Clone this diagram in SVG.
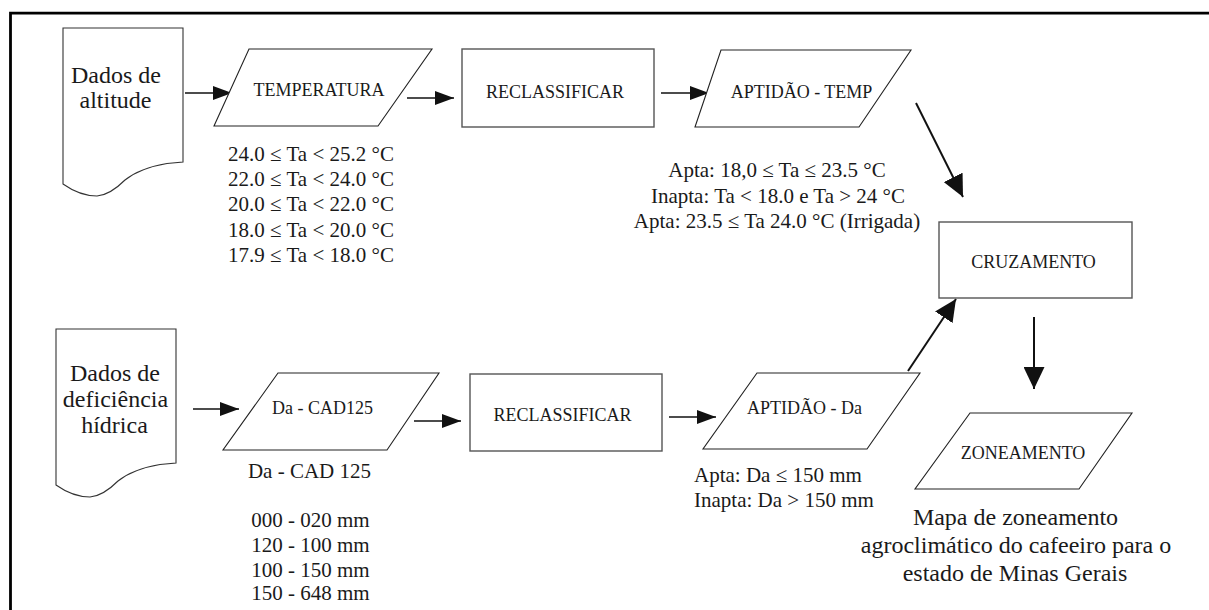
<svg xmlns="http://www.w3.org/2000/svg" width="1209" height="610" viewBox="0 0 1209 610">
<style>
  text { font-family: "Liberation Serif", "Times New Roman", serif; fill: #1a1a1a; }
  .box { font-size: 18px; text-anchor: middle; }
  .doc { font-size: 24px; text-anchor: middle; }
  .note { font-size: 21px; }
  .mid { text-anchor: middle; }
  .cap { font-size: 24px; text-anchor: middle; }
  .rect { fill: #fff; stroke: #555; stroke-width: 1.4; }
  .para { fill: #fff; stroke: #222; stroke-width: 1.1; }
  .docshape { fill: #fff; stroke: #333; stroke-width: 1.1; }
  .conn { stroke: #111; fill: none; }
  .thin { stroke-width: 1.7; marker-end: url(#ah); }
  .thick { stroke-width: 2; marker-end: url(#ahL); }
</style>
<defs>
  <marker id="ah" markerUnits="userSpaceOnUse" markerWidth="19" markerHeight="14" refX="19" refY="7" orient="auto">
    <path d="M0,0 L19,7 L0,14 Z" fill="#111"/>
  </marker>
  <marker id="ahL" markerUnits="userSpaceOnUse" markerWidth="22" markerHeight="21" refX="22" refY="10.5" orient="auto">
    <path d="M0,0 L22,10.5 L0,21 Z" fill="#111"/>
  </marker>
  <path id="docpath" d="M0,0 H120 V134 L104,135.5 Q77,140 62,152 Q47,167 34,168 Q17,168 0,156 Z"/>
</defs>

<rect x="0" y="0" width="1209" height="610" fill="#fff"/>
<path d="M10.5,610 V13.2 H1209" fill="none" stroke="#000" stroke-width="2.8"/>

<g id="connectors">
  <line class="conn thin" x1="185" y1="93" x2="232" y2="93"/>
  <line class="conn thin" x1="407" y1="98" x2="454" y2="98"/>
  <line class="conn thin" x1="661" y1="93" x2="709" y2="93"/>
  <line class="conn thin" x1="193" y1="409" x2="239" y2="409"/>
  <line class="conn thin" x1="414" y1="421" x2="461" y2="421"/>
  <line class="conn thin" x1="669" y1="417" x2="716" y2="417"/>
  <line class="conn thick" x1="916" y1="103" x2="963" y2="197"/>
  <line class="conn thick" x1="908" y1="371" x2="956" y2="299"/>
  <line class="conn thick" x1="1034" y1="317" x2="1034" y2="389"/>
</g>

<g id="doc-altitude">
  <use href="#docpath" class="docshape" transform="translate(63,28)"/>
  <text class="doc" x="116" y="83">Dados de</text>
  <text class="doc" x="115.5" y="108">altitude</text>
</g>

<g id="temperatura">
  <polygon class="para" points="249,49 432,49 378,126 214,126"/>
  <text class="box" x="319" y="96">TEMPERATURA</text>
  <text class="note mid" x="311" y="161">24.0 ≤ Ta &lt; 25.2 °C</text>
  <text class="note mid" x="311" y="186">22.0 ≤ Ta &lt; 24.0 °C</text>
  <text class="note mid" x="311" y="211">20.0 ≤ Ta &lt; 22.0 °C</text>
  <text class="note mid" x="311" y="236.5">18.0 ≤ Ta &lt; 20.0 °C</text>
  <text class="note mid" x="311" y="261.5">17.9 ≤ Ta &lt; 18.0 °C</text>
</g>

<g id="reclassificar-1">
  <rect class="rect" x="462" y="49" width="192" height="78"/>
  <text class="box" x="555" y="98">RECLASSIFICAR</text>
</g>

<g id="aptidao-temp">
  <polygon class="para" points="721,50 911,50 859,127 695,127"/>
  <text class="box" x="801.5" y="98">APTIDÃO - TEMP</text>
  <text class="note mid" x="777" y="177">Apta: 18,0 ≤ Ta ≤ 23.5 °C</text>
  <text class="note mid" x="778" y="203">Inapta: Ta &lt; 18.0 e Ta &gt; 24 °C</text>
  <text class="note mid" x="777" y="228">Apta: 23.5 ≤ Ta 24.0 °C (Irrigada)</text>
</g>

<g id="cruzamento">
  <rect class="rect" x="939" y="222" width="193" height="76"/>
  <text class="box" x="1033.5" y="268">CRUZAMENTO</text>
</g>

<g id="doc-deficiencia">
  <use href="#docpath" class="docshape" transform="translate(56,329)"/>
  <text class="doc" x="115" y="381">Dados de</text>
  <text class="doc" x="115.5" y="407">deficiência</text>
  <text class="doc" x="114.5" y="433">hídrica</text>
</g>

<g id="da-cad125">
  <polygon class="para" points="278,373 439,373 387,450 223,450"/>
  <text class="box" x="322.5" y="414">Da - CAD125</text>
  <text class="note mid" x="309.5" y="478">Da - CAD 125</text>
  <text class="note mid" x="310.5" y="527">000 - 020 mm</text>
  <text class="note mid" x="310.5" y="552">120 - 100 mm</text>
  <text class="note mid" x="310.5" y="577">100 - 150 mm</text>
  <text class="note mid" x="310.5" y="600">150 - 648 mm</text>
</g>

<g id="reclassificar-2">
  <rect class="rect" x="470" y="374" width="192" height="77"/>
  <text class="box" x="562.5" y="421">RECLASSIFICAR</text>
</g>

<g id="aptidao-da">
  <polygon class="para" points="757,373 920,373 867,449 703,449"/>
  <text class="box" x="804.5" y="414">APTIDÃO - Da</text>
  <text class="note" x="694" y="482">Apta: Da ≤ 150 mm</text>
  <text class="note" x="694" y="507">Inapta: Da &gt; 150 mm</text>
</g>

<g id="zoneamento">
  <polygon class="para" points="970,413 1132,413 1079,489 915,489"/>
  <text class="box" x="1023" y="459">ZONEAMENTO</text>
  <text class="cap" x="1015.5" y="525">Mapa de zoneamento</text>
  <text class="cap" x="1016" y="553">agroclimático do cafeeiro para o</text>
  <text class="cap" x="1015" y="581">estado de Minas Gerais</text>
</g>
</svg>
